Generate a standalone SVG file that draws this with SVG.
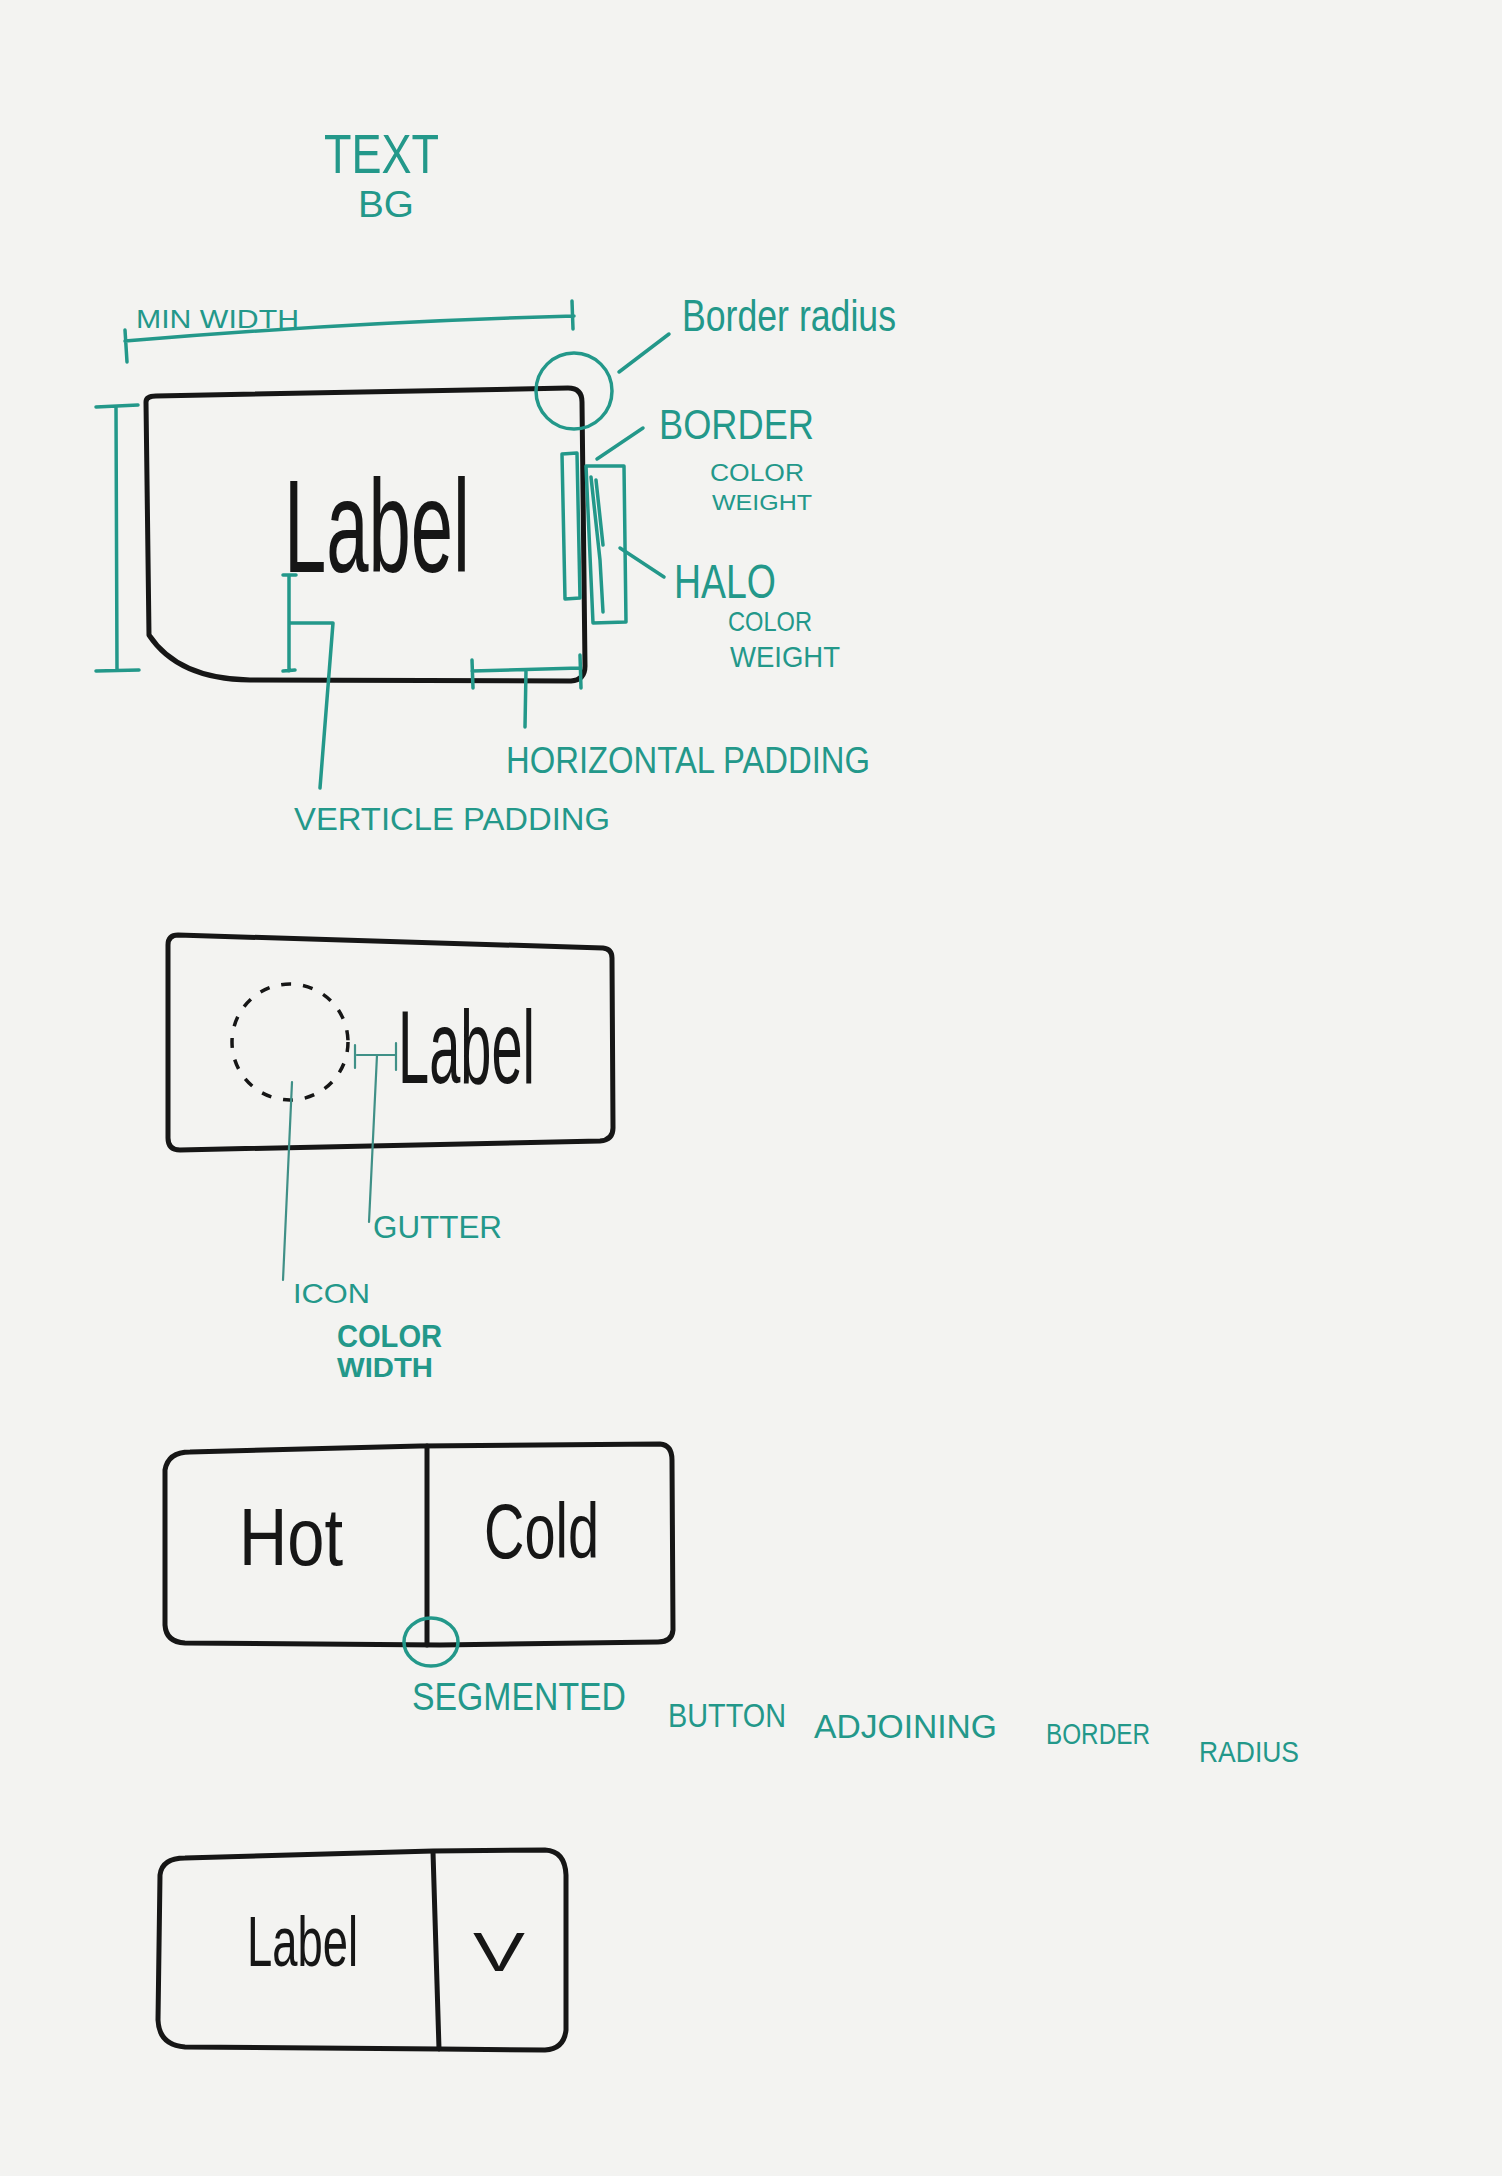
<svg xmlns="http://www.w3.org/2000/svg" width="1502" height="2176" viewBox="0 0 1502 2176">
<style>
.bg{fill:#f3f3f1}
.box{fill:none;stroke:#161616;stroke-width:5;stroke-linejoin:round;stroke-linecap:round}
.tl{fill:none;stroke:#23988a;stroke-width:3.5;stroke-linecap:round;stroke-linejoin:round}
.thin{fill:none;stroke:#3f9087;stroke-width:2.2;stroke-linecap:round}
.t{font-family:"Liberation Sans",Arial,sans-serif;fill:#23988a}
.k{font-family:"Liberation Sans",Arial,sans-serif;fill:#161616}
</style>
<rect class="bg" x="0" y="0" width="1502" height="2176"/>

<g id="text-bg-note">
<text class="t" x="324" y="173" font-size="56" textLength="115" lengthAdjust="spacingAndGlyphs">TEXT</text>
<text class="t" x="358" y="217" font-size="36" textLength="56" lengthAdjust="spacingAndGlyphs">BG</text>
</g>

<g id="button-anatomy">
<path class="box" stroke-width="4" d="M146 402 Q146 396 156 396 L568 388 Q582 388 582 402 L585 666 Q585 680 571 681 L250 680 Q178 679 149 635 Z"/>
<text class="k" x="284" y="572" font-size="132" textLength="186" lengthAdjust="spacingAndGlyphs">Label</text>
</g>

<g id="min-width">
<text class="t" x="136" y="328" font-size="26" textLength="163" lengthAdjust="spacingAndGlyphs">MIN WIDTH</text>
</g>
<g id="border-radius">
<circle class="tl" cx="574" cy="391" r="38"/>
<text class="t" x="682" y="331" font-size="44" textLength="214" lengthAdjust="spacingAndGlyphs">Border radius</text>
</g>
<g id="border">
<path class="tl" d="M562 454 L577 453 L580 598 L565 599 Z"/>
<text class="t" x="659" y="439" font-size="42" textLength="155" lengthAdjust="spacingAndGlyphs">BORDER</text>
<text class="t" x="710" y="481" font-size="23" textLength="94" lengthAdjust="spacingAndGlyphs">COLOR</text>
<text class="t" x="712" y="510" font-size="22" textLength="100" lengthAdjust="spacingAndGlyphs">WEIGHT</text>
</g>
<g id="halo">
<path class="tl" d="M586 466 L624 466 L626 622 L593 623 Z"/>
<path class="tl" d="M591 477 L600 560 L603 612 M596 480 L603 545"/>
<text class="t" x="674" y="598" font-size="48" textLength="102" lengthAdjust="spacingAndGlyphs">HALO</text>
<text class="t" x="728" y="631" font-size="28" textLength="84" lengthAdjust="spacingAndGlyphs">COLOR</text>
<text class="t" x="730" y="667" font-size="30" textLength="110" lengthAdjust="spacingAndGlyphs">WEIGHT</text>
</g>
<g id="vertical-padding">
<text class="t" x="294" y="830" font-size="32" textLength="316" lengthAdjust="spacingAndGlyphs">VERTICLE PADDING</text>
</g>
<g id="horizontal-padding">
<text class="t" x="506" y="773" font-size="36" textLength="364" lengthAdjust="spacingAndGlyphs">HORIZONTAL PADDING</text>
</g>

<g id="icon-button">
<path class="box" d="M178 935 L603 948 Q612 949 612 958 L613 1128 Q613 1140 600 1141 L180 1150 Q168 1150 168 1138 L168 945 Q168 935 178 935 Z"/>
<circle cx="290" cy="1042" r="58" fill="none" stroke="#161616" stroke-width="3.5" stroke-dasharray="10 12"/>
<text class="k" x="398" y="1083" font-size="104" textLength="137" lengthAdjust="spacingAndGlyphs">Label</text>
</g>
<g id="gutter">
<text class="t" x="373" y="1238" font-size="32" textLength="129" lengthAdjust="spacingAndGlyphs">GUTTER</text>
</g>
<g id="icon-note">
<text class="t" x="293" y="1303" font-size="28" textLength="77" lengthAdjust="spacingAndGlyphs">ICON</text>
<text class="t" x="337" y="1347" font-size="32" font-weight="bold" textLength="105" lengthAdjust="spacingAndGlyphs">COLOR</text>
<text class="t" x="337" y="1377" font-size="28" font-weight="bold" textLength="96" lengthAdjust="spacingAndGlyphs">WIDTH</text>
</g>

<g id="segmented-button">
<path class="box" d="M165 1470 Q168 1452 190 1452 L420 1446 L660 1444 Q672 1445 672 1460 L673 1630 Q672 1642 658 1642 L440 1645 L185 1643 Q166 1642 165 1625 Z"/>
<path class="box" stroke-width="4" d="M427 1446 L427 1645"/>
<text class="k" x="239" y="1565" font-size="82" textLength="104" lengthAdjust="spacingAndGlyphs">Hot</text>
<text class="k" x="484" y="1558" font-size="78" textLength="115" lengthAdjust="spacingAndGlyphs">Cold</text>
</g>
<g id="adjoining-radius">
<ellipse class="tl" cx="431" cy="1642" rx="27" ry="24"/>
<text class="t" font-size="34">
<tspan x="412" y="1710" font-size="38" textLength="214" lengthAdjust="spacingAndGlyphs">SEGMENTED</tspan>
<tspan x="668" y="1727" textLength="118" lengthAdjust="spacingAndGlyphs">BUTTON</tspan>
<tspan x="814" y="1738" textLength="183" lengthAdjust="spacingAndGlyphs">ADJOINING</tspan>
<tspan x="1046" y="1744" font-size="30" textLength="104" lengthAdjust="spacingAndGlyphs">BORDER</tspan>
<tspan x="1199" y="1762" font-size="30" textLength="100" lengthAdjust="spacingAndGlyphs">RADIUS</tspan>
</text>
</g>

<g id="split-button">
<path class="box" d="M160 1875 Q162 1858 185 1858 L433 1851 L545 1850 Q565 1851 566 1875 L566 2030 Q564 2049 545 2050 L440 2049 L185 2047 Q159 2045 158 2020 Z"/>
<path class="box" stroke-width="4.5" d="M433 1852 L439 2049"/>
<text class="k" x="247" y="1966" font-size="70" textLength="111" lengthAdjust="spacingAndGlyphs">Label</text>
<text class="k" x="473" y="1971" font-size="56" textLength="52" lengthAdjust="spacingAndGlyphs">V</text>
</g>

<g id="connectors">
<path class="tl" d="M125 341 Q350 322 574 316 M125 330 L127 362 M572 301 L573 329"/>
<path class="tl" d="M116 407 L117 670 M96 407 L138 405 M96 671 L139 670"/>
<path class="tl" d="M289 575 L289 671 M283 575 L296 575 M283 671 L295 670 M291 623 L333 623 L320 788"/>
<path class="tl" d="M472 671 L580 668 M472 660 L473 688 M580 655 L581 688 M526 670 L525 727"/>
<path class="tl" d="M619 372 L669 334"/>
<path class="tl" d="M597 459 L643 428"/>
<path class="tl" d="M620 548 L664 577"/>
<path class="thin" d="M355 1045 L355 1068 M357 1055 L396 1055 M396 1043 L396 1070 M377 1055 L369 1222"/>
<path class="thin" d="M292 1082 L283 1280"/>
</g>
</svg>
